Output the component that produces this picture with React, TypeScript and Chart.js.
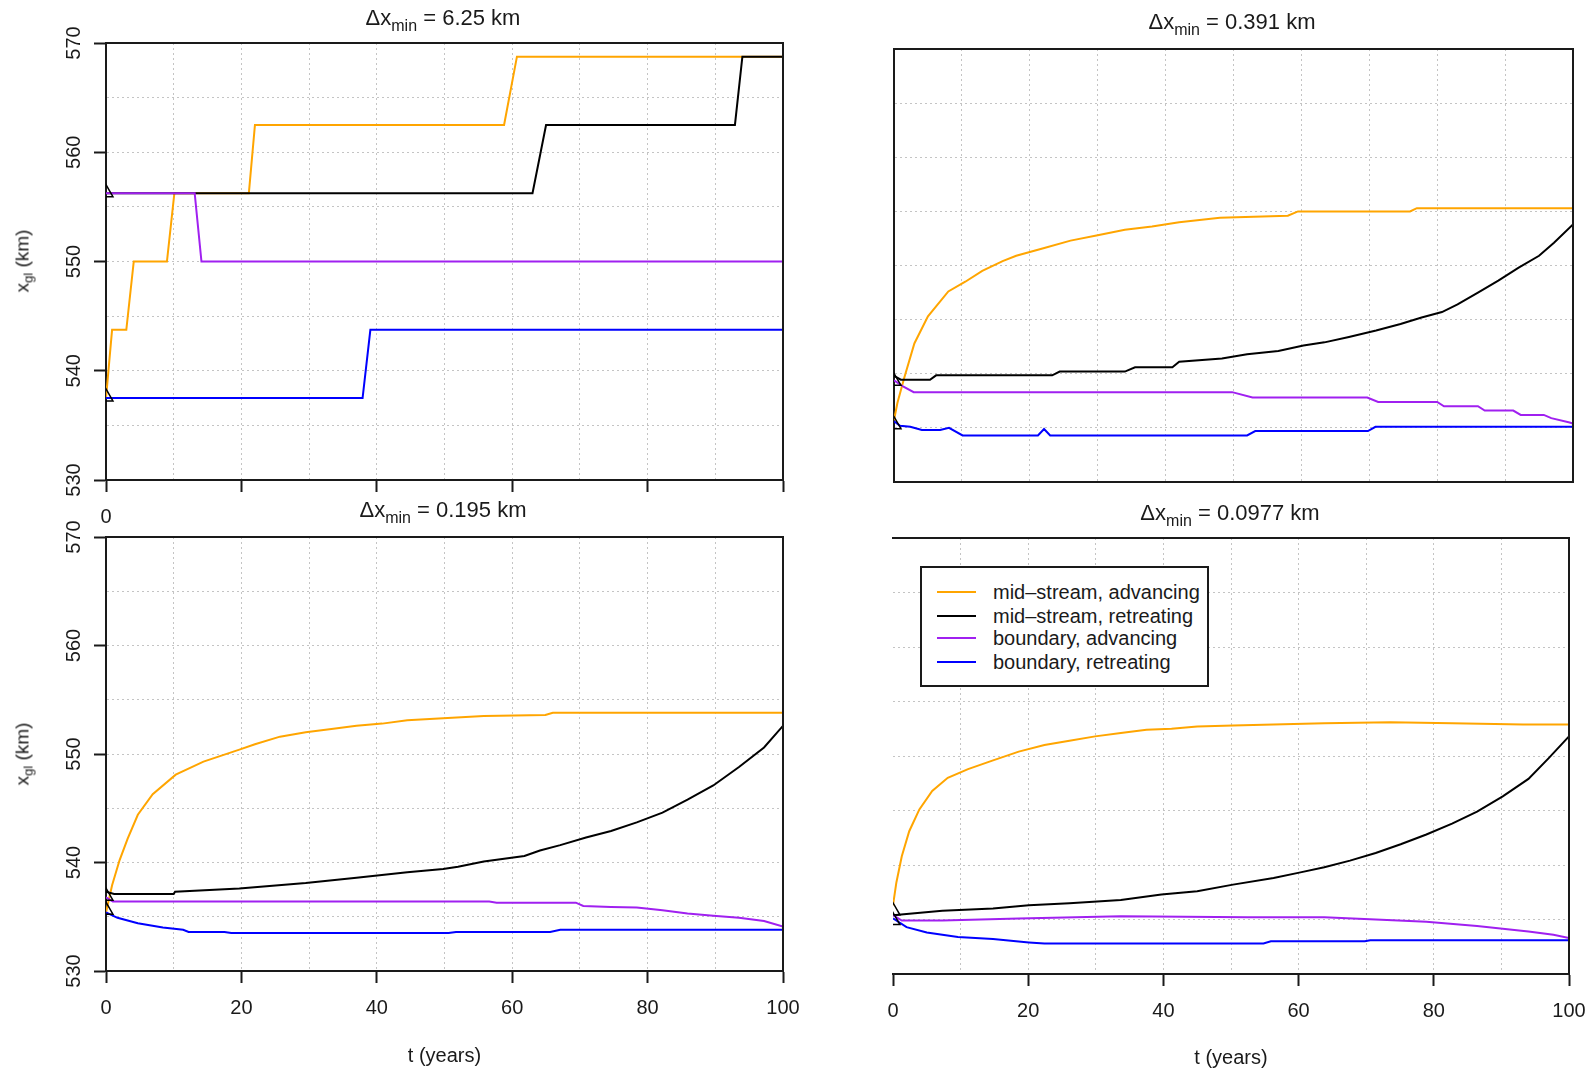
import React, { useEffect, useRef } from 'react';
import { Chart, registerables } from 'chart.js';

Chart.register(...registerables);

type Pt = [number, number];

// ---------- Panel 1: Δx_min = 6.25 km ----------
const p1MidAdv: Pt[] = [[0, 537.5], [0.9, 543.75], [3.0, 543.75], [4.1, 550], [9.0, 550], [10.1, 556.25], [21.1, 556.25], [22.0, 562.5], [58.8, 562.5], [60.7, 568.75], [100, 568.75]];
const p1MidRet: Pt[] = [[0, 556.25], [63.0, 556.25], [65.0, 562.5], [92.9, 562.5], [94.0, 568.75], [100, 568.75]];
const p1BndAdv: Pt[] = [[0, 556.25], [13.1, 556.25], [14.1, 550], [100, 550]];
const p1BndRet: Pt[] = [[0, 537.5], [37.9, 537.5], [39.05, 543.75], [100, 543.75]];
const p1Start: Pt[] = [[0, 556.3], [0, 537.6]];

// ---------- Panel 2: Δx_min = 0.391 km ----------
const p2MidAdv: Pt[] = [[0, 535.7], [0.5, 537.3], [1.5, 539.6], [3, 542.8], [5, 545.3], [8, 547.6], [10.5, 548.5], [13, 549.5], [16, 550.4], [18, 550.9], [22, 551.6], [26, 552.3], [30, 552.8], [34, 553.3], [38, 553.6], [42, 554.0], [48, 554.4], [58, 554.6], [59.5, 555.0], [76, 555.0], [77, 555.3], [100, 555.3]];
const p2MidRet: Pt[] = [[0, 539.8], [1, 539.45], [5.3, 539.45], [6.2, 539.85], [23.3, 539.85], [24.4, 540.2], [34, 540.2], [35.5, 540.6], [41, 540.6], [42, 541.1], [48.3, 541.4], [52, 541.8], [56.6, 542.1], [60.3, 542.6], [63.4, 542.9], [67, 543.4], [71, 544.0], [74.6, 544.6], [77.7, 545.2], [80.7, 545.7], [83, 546.4], [86, 547.5], [89, 548.6], [92, 549.8], [95, 550.9], [97.2, 552.1], [100, 553.8]];
const p2BndAdv: Pt[] = [[0, 539.4], [1.4, 538.8], [2.9, 538.3], [49.8, 538.3], [52.8, 537.8], [69.7, 537.8], [71.3, 537.4], [80, 537.4], [81, 537.0], [86, 537.0], [87, 536.6], [91.2, 536.6], [92.3, 536.2], [95.7, 536.2], [96.8, 535.9], [99.5, 535.5], [100, 535.4]];
const p2BndRet: Pt[] = [[0, 535.6], [0.9, 535.2], [2.4, 535.1], [4.1, 534.8], [6.8, 534.8], [8.1, 535.0], [10.1, 534.3], [21.2, 534.3], [22.1, 534.9], [23.0, 534.3], [52, 534.3], [53.2, 534.7], [69.8, 534.7], [70.9, 535.1], [100, 535.1]];
const p2Start: Pt[] = [[0, 539.3], [0, 535.3]];

// ---------- Panel 3: Δx_min = 0.195 km ----------
const p3MidAdv: Pt[] = [[0, 535.4], [0.9, 537.9], [2.0, 540.2], [3.2, 542.2], [4.7, 544.4], [6.9, 546.3], [10.3, 548.1], [14.4, 549.3], [19.7, 550.4], [22, 550.9], [25.7, 551.6], [29.5, 552.0], [33.3, 552.3], [37, 552.6], [40.8, 552.8], [44.5, 553.1], [49.8, 553.3], [55.8, 553.5], [64.9, 553.6], [66, 553.8], [100, 553.8]];
const p3MidRet: Pt[] = [[0, 537.3], [1.2, 537.1], [10, 537.1], [10.2, 537.3], [19.7, 537.6], [29.5, 538.1], [37, 538.6], [44.5, 539.1], [49.8, 539.4], [52, 539.6], [55.8, 540.1], [61.8, 540.6], [64.1, 541.1], [67.1, 541.6], [70.9, 542.3], [74.6, 542.9], [78.4, 543.7], [82.2, 544.6], [85.9, 545.8], [89.7, 547.1], [93.5, 548.8], [97.2, 550.6], [100, 552.6]];
const p3BndAdv: Pt[] = [[0, 536.8], [1, 536.4], [56.6, 536.4], [57.7, 536.3], [69.4, 536.3], [70.5, 536.0], [74.6, 535.9], [78.4, 535.85], [82.2, 535.6], [85.9, 535.3], [89.7, 535.1], [93.5, 534.9], [97.2, 534.6], [100, 534.1]];
const p3BndRet: Pt[] = [[0, 535.4], [1.7, 534.9], [4.7, 534.4], [8.4, 534.0], [11.4, 533.8], [12.2, 533.6], [17.5, 533.6], [18.5, 533.5], [50.6, 533.5], [51.7, 533.6], [65.6, 533.6], [67.1, 533.8], [100, 533.8]];
const p3Start: Pt[] = [[0, 536.9], [0, 535.6]];

// ---------- Panel 4: Δx_min = 0.0977 km ----------
const p4MidAdv: Pt[] = [[0, 536.3], [0.5, 538.4], [1.3, 540.8], [2.4, 543.1], [3.9, 545.1], [5.8, 546.8], [8.1, 548.0], [11.1, 548.8], [14.8, 549.6], [18.6, 550.4], [22.4, 551.0], [26.1, 551.4], [29.9, 551.8], [33.7, 552.1], [37.5, 552.4], [41.2, 552.5], [45, 552.7], [50.3, 552.8], [56.3, 552.9], [63.8, 553.0], [73.6, 553.1], [82.7, 553.0], [93.2, 552.9], [100, 552.9]];
const p4MidRet: Pt[] = [[0, 535.4], [2, 535.5], [7.3, 535.8], [14.8, 536.0], [20.1, 536.3], [26.1, 536.5], [33.7, 536.8], [39.7, 537.3], [45, 537.6], [50.3, 538.2], [56.3, 538.8], [60.1, 539.3], [63.8, 539.8], [67.6, 540.4], [71.4, 541.1], [75.1, 541.9], [78.9, 542.8], [82.7, 543.8], [86.4, 544.9], [90.2, 546.3], [94, 547.9], [97, 549.8], [100, 551.8]];
const p4BndAdv: Pt[] = [[0, 535.4], [1.3, 534.9], [7.3, 534.9], [18.6, 535.1], [33.7, 535.3], [52.5, 535.2], [63.8, 535.2], [71.4, 535.0], [78.9, 534.8], [86.4, 534.4], [94, 533.9], [97.7, 533.6], [100, 533.3]];
const p4BndRet: Pt[] = [[0, 535.1], [2, 534.3], [5, 533.8], [9.6, 533.4], [14.8, 533.2], [20.1, 532.9], [22.4, 532.8], [54.8, 532.8], [55.9, 533.0], [69.8, 533.0], [70.6, 533.1], [100, 533.1]];
const p4Start: Pt[] = [[0, 535.8], [0, 534.9]];

// ---------- Shared labels / scales ----------
const seriesLabels = ['mid\u2013stream, advancing', 'mid\u2013stream, retreating', 'boundary, advancing', 'boundary, retreating'];
const seriesColors = ['#FFA500', '#000000', '#A020F0', '#0000FF'];
const panelResolutions = ['6.25', '0.391', '0.195', '0.0977'];
const xMin = 0;
const xMax = 100;
const xStep = 10;
const yMin = 530;
const yMax = 570;
const yStep = 5;
const xAxisTitle = 't (years)';

const FONT = '"Liberation Sans", Arial, Helvetica, sans-serif';
const INK = '#1a1a1a';
const GRID = '#c4c4c4';

interface PanelCfg {
  left: number; top: number; w: number; h: number;
  pad: { left: number; top: number; right: number; bottom: number };
  yWidth: number; xHeight: number;
  yLabels: boolean; yTicks: boolean; yBorder: boolean;
  xLabelMode: 'all' | 'zero' | 'none'; xTicks: boolean; xTitle: boolean;
  series: Pt[][]; // midAdv, midRet, bndAdv, bndRet
  start: Pt[];
}

const framePlugin = {
  id: 'frameBox',
  afterDraw(chart: any) {
    const { ctx, chartArea } = chart;
    ctx.save();
    ctx.strokeStyle = INK;
    ctx.lineWidth = 2;
    ctx.beginPath();
    ctx.moveTo(chartArea.left - 1, chartArea.top);
    ctx.lineTo(chartArea.right, chartArea.top);
    ctx.lineTo(chartArea.right, chartArea.bottom + 1);
    ctx.stroke();
    ctx.restore();
  },
};

function toXY(arr: Pt[]) {
  return arr.map(([x, y]) => ({ x, y }));
}

function buildConfig(p: PanelCfg): any {
  const font = { family: FONT, size: 20 };
  const lineDs = (data: Pt[], color: string, label: string) => ({
    type: 'line',
    label,
    data: toXY(data),
    borderColor: color,
    backgroundColor: color,
    borderWidth: 2,
    pointRadius: 0,
    tension: 0,
    fill: false,
  });
  // draw order: index 0 on top
  const datasets = [
    {
      type: 'line',
      label: 'start',
      data: toXY(p.start),
      showLine: false,
      pointStyle: 'triangle',
      pointRadius: 8,
      borderColor: '#000',
      backgroundColor: 'rgba(0,0,0,0)',
      pointBorderWidth: 1.5,
      borderWidth: 1.5,
      clip: 0,
    },
    lineDs(p.series[3], seriesColors[3], seriesLabels[3]),
    lineDs(p.series[2], seriesColors[2], seriesLabels[2]),
    lineDs(p.series[1], seriesColors[1], seriesLabels[1]),
    lineDs(p.series[0], seriesColors[0], seriesLabels[0]),
  ];
  return {
    type: 'line',
    data: { datasets },
    options: {
      animation: false,
      responsive: false,
      events: [],
      layout: { padding: p.pad },
      plugins: { legend: { display: false }, tooltip: { enabled: false }, title: { display: false } },
      scales: {
        x: {
          type: 'linear',
          position: 'bottom',
          min: xMin,
          max: xMax,
          afterFit: (s: any) => {
            s.height = p.xHeight;
            s.paddingLeft = 0;
            s.paddingRight = 0;
          },
          ticks: {
            stepSize: xStep,
            autoSkip: false,
            maxRotation: 0,
            minRotation: 0,
            padding: 13,
            color: INK,
            font,
            display: p.xLabelMode !== 'none',
            callback: (v: number) => {
              if (p.xLabelMode === 'zero') return v === 0 ? '0' : '';
              return v % 20 === 0 ? String(v) : '';
            },
          },
          grid: {
            color: (c: any) => (c.tick && (c.tick.value === xMin || c.tick.value === xMax) ? 'rgba(0,0,0,0)' : GRID),
            lineWidth: 1,
            drawTicks: p.xTicks,
            tickLength: 12,
            tickWidth: 2,
            tickColor: (c: any) => (c.tick && c.tick.value % 20 === 0 ? INK : 'rgba(0,0,0,0)'),
          },
          border: { display: true, color: INK, width: 2, dash: [2, 3] },
          title: { display: p.xTitle, text: xAxisTitle, color: INK, font, padding: { top: 0, bottom: 0 } },
        },
        y: {
          type: 'linear',
          position: 'left',
          min: yMin,
          max: yMax,
          afterFit: (s: any) => {
            s.width = p.yWidth;
            s.paddingTop = 0;
            s.paddingBottom = 0;
          },
          ticks: {
            stepSize: yStep,
            autoSkip: false,
            display: p.yLabels,
            minRotation: 90,
            maxRotation: 90,
            crossAlign: 'center',
            padding: 3,
            color: INK,
            font,
            callback: (v: number) => (v % 10 === 0 ? String(v) : ''),
          },
          grid: {
            color: (c: any) => (c.tick && (c.tick.value === yMin || c.tick.value === yMax) ? 'rgba(0,0,0,0)' : GRID),
            lineWidth: 1,
            drawTicks: p.yTicks,
            tickLength: 12,
            tickWidth: 2,
            tickColor: (c: any) => (c.tick && c.tick.value % 10 === 0 ? INK : 'rgba(0,0,0,0)'),
          },
          border: { display: p.yBorder, color: INK, width: 2, dash: [2, 3] },
        },
      },
    },
    plugins: [framePlugin],
  };
}

const panels: PanelCfg[] = [
  {
    left: 0, top: 0, w: 800, h: 530,
    pad: { left: 0, top: 43, right: 17, bottom: 1 },
    yWidth: 106, xHeight: 49,
    yLabels: true, yTicks: true, yBorder: true,
    xLabelMode: 'zero', xTicks: true, xTitle: false,
    series: [p1MidAdv, p1MidRet, p1BndAdv, p1BndRet], start: p1Start,
  },
  {
    left: 800, top: 0, w: 789, h: 530,
    pad: { left: 0, top: 49, right: 16, bottom: 38 },
    yWidth: 94, xHeight: 10,
    yLabels: false, yTicks: false, yBorder: true,
    xLabelMode: 'none', xTicks: false, xTitle: false,
    series: [p2MidAdv, p2MidRet, p2BndAdv, p2BndRet], start: p2Start,
  },
  {
    left: 0, top: 500, w: 800, h: 570,
    pad: { left: 0, top: 37, right: 17, bottom: 2 },
    yWidth: 106, xHeight: 97,
    yLabels: true, yTicks: true, yBorder: true,
    xLabelMode: 'all', xTicks: true, xTitle: true,
    series: [p3MidAdv, p3MidRet, p3BndAdv, p3BndRet], start: p3Start,
  },
  {
    left: 800, top: 500, w: 789, h: 570,
    pad: { left: 0, top: 38, right: 20, bottom: 0 },
    yWidth: 93, xHeight: 96,
    yLabels: false, yTicks: false, yBorder: false,
    xLabelMode: 'all', xTicks: true, xTitle: true,
    series: [p4MidAdv, p4MidRet, p4BndAdv, p4BndRet], start: p4Start,
  },
];

const titlePos: [number, number][] = [[443, 18], [1232, 22], [443, 510], [1230, 513]];
const yTitlePos: [number, number][] = [[22, 261], [22, 754]];

function Panel({ cfg }: { cfg: PanelCfg }) {
  const ref = useRef<HTMLCanvasElement>(null);
  useEffect(() => {
    if (!ref.current) return;
    const chart = new Chart(ref.current, buildConfig(cfg));
    return () => chart.destroy();
  }, [cfg]);
  return (
    <canvas
      ref={ref}
      width={cfg.w}
      height={cfg.h}
      style={{ position: 'absolute', left: cfg.left, top: cfg.top, width: cfg.w, height: cfg.h }}
    />
  );
}

export default function App() {
  return (
    <div
      style={{
        position: 'absolute', left: 0, top: 0, width: 1589, height: 1070,
        background: '#fff', fontFamily: FONT, color: INK, overflow: 'hidden',
      }}
    >
      {panels.map((p, i) => <Panel key={i} cfg={p} />)}

      {panelResolutions.map((r, i) => (
        <div
          key={'t' + i}
          style={{
            position: 'absolute', left: titlePos[i][0], top: titlePos[i][1],
            transform: 'translate(-50%, -50%)', fontSize: 22, lineHeight: 1, whiteSpace: 'nowrap',
          }}
        >
          {'\u0394x'}
          <span style={{ fontSize: 16, position: 'relative', top: 6 }}>min</span>
          {' = ' + r + ' km'}
        </div>
      ))}

      {yTitlePos.map((pos, i) => (
        <div
          key={'y' + i}
          style={{
            position: 'absolute', left: pos[0], top: pos[1],
            transform: 'translate(-50%, -50%) rotate(-90deg)', fontSize: 19, lineHeight: 1, whiteSpace: 'nowrap',
          }}
        >
          x<span style={{ fontSize: 13, position: 'relative', top: 4 }}>gl</span> (km)
        </div>
      ))}

      <div
        style={{
          position: 'absolute', left: 920, top: 566, width: 289, height: 121,
          boxSizing: 'border-box', border: '2px solid ' + INK, background: '#fff',
        }}
      >
        {seriesLabels.map((lab, i) => {
          const cy = [26, 50, 72, 96][i] - 2;
          return (
            <React.Fragment key={lab}>
              <div style={{ position: 'absolute', left: 15, top: cy - 1, width: 39, height: 2, background: seriesColors[i] }} />
              <div style={{ position: 'absolute', left: 71, top: cy - 12, height: 24, lineHeight: '24px', fontSize: 20, whiteSpace: 'nowrap' }}>
                {lab}
              </div>
            </React.Fragment>
          );
        })}
      </div>
    </div>
  );
}
